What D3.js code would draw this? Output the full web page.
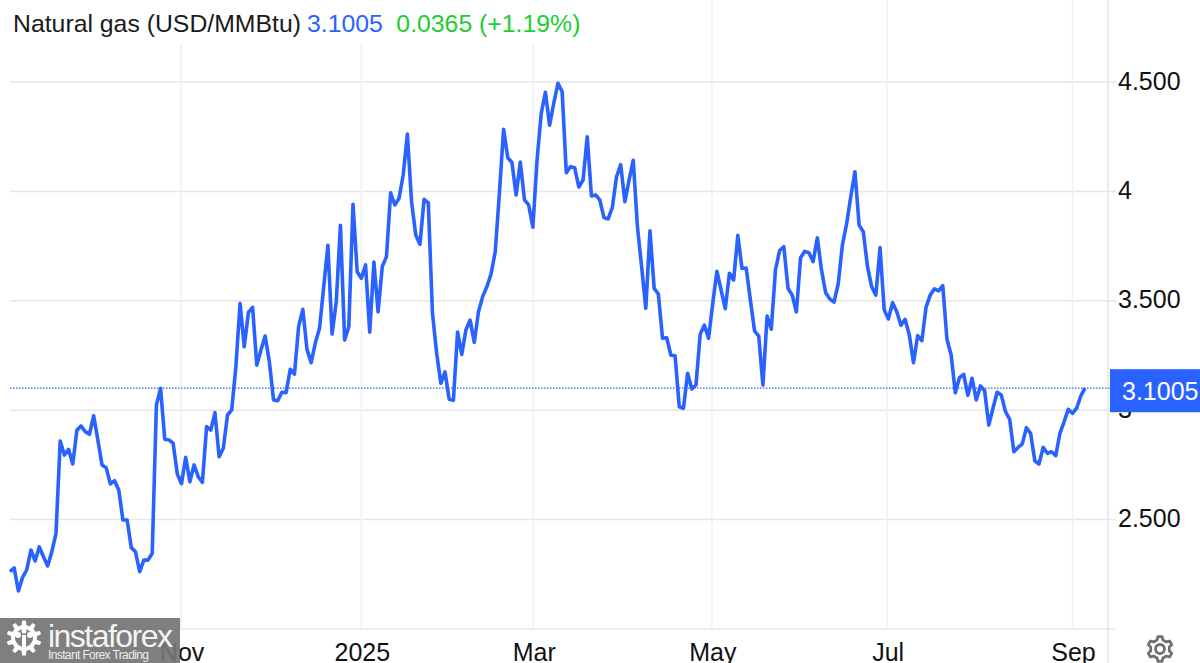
<!DOCTYPE html>
<html>
<head>
<meta charset="utf-8">
<script src="https://cdn.jsdelivr.net/npm/d3@7"></script>
<style>
    html, body { margin: 0; padding: 0; background: #fff; }
    svg { display: block; }
    text { font-family: "Liberation Sans", Arial, sans-serif; }
</style>
</head>
<body>
<svg id="chart" width="1200" height="663"></svg>
<script>
// Henry Hub prices, one value per trading day
const prices = [
    2.262, 2.279, 2.174, 2.236, 2.27, 2.361, 2.311, 2.376, 2.33, 2.288,
    2.353, 2.437, 2.859, 2.795, 2.821, 2.754, 2.909, 2.928, 2.902, 2.89,
    2.975, 2.864, 2.75, 2.737, 2.663, 2.678, 2.635, 2.498, 2.498, 2.372,
    2.353, 2.262, 2.315, 2.315, 2.346, 3.024, 3.1, 2.867, 2.864, 2.849,
    2.708, 2.664, 2.785, 2.673, 2.75, 2.696, 2.67, 2.925, 2.909, 2.989,
    2.787, 2.826, 2.978, 3.001,
    3.199, 3.488, 3.29, 3.447, 3.47, 3.206, 3.275, 3.339, 3.222, 3.047,
    3.043, 3.082, 3.08, 3.187, 3.165, 3.382, 3.461, 3.278, 3.217, 3.308,
    3.374, 3.564, 3.754, 3.348, 3.496, 3.845, 3.321, 3.382, 3.941, 3.633,
    3.603, 3.664, 3.357, 3.677, 3.45, 3.656, 3.702, 3.994, 3.938, 3.968,
    4.075, 4.262, 3.953, 3.801, 3.758, 3.964, 3.948, 3.443, 3.26, 3.123,
    3.175, 3.05, 3.045, 3.357, 3.255, 3.367, 3.412, 3.31, 3.45, 3.519,
    3.564, 3.622, 3.724, 3.991, 4.284, 4.154, 4.132, 3.984, 4.134, 3.961,
    3.938, 3.836, 4.143, 4.357, 4.453, 4.303, 4.403, 4.494, 4.456, 4.085,
    4.113, 4.108, 4.02, 4.052, 4.25, 3.979, 3.984, 3.961, 3.88, 3.874,
    3.927, 4.067, 4.122, 3.953, 4.052, 4.142, 3.839, 3.656, 3.466, 3.82,
    3.557, 3.531, 3.329, 3.331, 3.251, 3.249, 3.016, 3.009, 3.169, 3.097,
    3.115, 3.347, 3.389, 3.329, 3.488, 3.635, 3.549, 3.464, 3.626, 3.595,
    3.799, 3.648, 3.65, 3.504, 3.363, 3.339, 3.115, 3.43, 3.37, 3.641,
    3.73, 3.747, 3.557, 3.526, 3.449, 3.697, 3.726, 3.72, 3.679, 3.788,
    3.641, 3.537, 3.508, 3.494, 3.577, 3.755, 3.851, 3.976, 4.09, 3.846,
    3.816, 3.656, 3.564, 3.526, 3.743, 3.458, 3.417, 3.491, 3.45, 3.388,
    3.415, 3.344, 3.217, 3.341, 3.318, 3.47, 3.526, 3.555, 3.545, 3.569,
    3.324, 3.252, 3.08, 3.149, 3.164, 3.068, 3.146, 3.047, 3.111, 3.089,
    2.932, 3.009, 3.082, 3.069, 2.993, 2.958, 2.81, 2.83, 2.846, 2.92,
    2.894, 2.769, 2.754, 2.83, 2.803, 2.81, 2.792, 2.894, 2.947, 3.004,
    2.986, 3.009, 3.065, 3.1005
];
const lastPrice = prices[prices.length - 1];

const yTicks = [2.5, 3, 3.5, 4, 4.5];
const yTickLabels = ["2.500", "3", "3.500", "4", "4.500"];

// position of the month labels as a trading day number
const monthLabels = ["Nov", "2025", "Mar", "May", "Jul", "Sep"];
const monthIndex = [40.9, 84, 125.1, 167.8, 209.7, 254];

const BLUE = "#2962ff";
const GREEN = "#22cc33";
const GRID = "#e6e6e6";
const MONTH_GRID = "#edf2f6";
const FONT_SIZE = 25;

const svg = d3.select("#chart");

const x = d3.scaleLinear().domain([0, prices.length - 1]).range([10, 1085]);
const y = d3.scaleLinear().domain([2, 4.5]).range([629, 82]);

// horizontal grid
const gridValues = [2].concat(yTicks);
svg.append("g").selectAll("line")
    .data(gridValues)
    .join("line")
    .attr("x1", 10)
    .attr("x2", 1116)
    .attr("y1", d => y(d))
    .attr("y2", d => y(d))
    .attr("stroke", GRID)
    .attr("stroke-width", 1.5);

// vertical month grid
svg.append("g").selectAll("line")
    .data(monthIndex)
    .join("line")
    .attr("x1", d => x(d))
    .attr("x2", d => x(d))
    .attr("y1", 0)
    .attr("y2", 629)
    .attr("stroke", MONTH_GRID)
    .attr("stroke-width", 1.6);

// right axis border
svg.append("line")
    .attr("x1", 1108).attr("x2", 1108)
    .attr("y1", 0).attr("y2", 663)
    .attr("stroke", GRID)
    .attr("stroke-width", 1.6);

// y axis labels
svg.append("g").selectAll("text")
    .data(yTicks)
    .join("text")
    .attr("x", 1118)
    .attr("y", d => y(d) + 7.5)
    .attr("font-size", FONT_SIZE)
    .attr("fill", "#111")
    .text((d, i) => yTickLabels[i]);

// x axis labels
svg.append("g").selectAll("text")
    .data(monthIndex)
    .join("text")
    .attr("x", d => x(d) + 1)
    .attr("y", 661)
    .attr("text-anchor", "middle")
    .attr("font-size", FONT_SIZE)
    .attr("fill", "#111")
    .text((d, i) => monthLabels[i]);

// last price dotted line
svg.append("line")
    .attr("x1", 10).attr("x2", 1110)
    .attr("y1", y(lastPrice)).attr("y2", y(lastPrice))
    .attr("stroke", BLUE)
    .attr("stroke-width", 1.3)
    .attr("stroke-dasharray", "1.5 1.5");

// price line
const line = d3.line()
    .x((d, i) => x(i))
    .y(d => y(d));

svg.append("path")
    .datum(prices)
    .attr("d", line)
    .attr("fill", "none")
    .attr("stroke", BLUE)
    .attr("stroke-width", 3.6)
    .attr("stroke-linejoin", "round");

// price tag
svg.append("rect")
    .attr("x", 1110)
    .attr("y", y(lastPrice) - 19)
    .attr("width", 90)
    .attr("height", 43)
    .attr("fill", BLUE);

svg.append("text")
    .attr("x", 1122)
    .attr("y", y(lastPrice) + 12)
    .attr("font-size", FONT_SIZE)
    .attr("fill", "#fff")
    .text(lastPrice.toFixed(4));

// header sits on its own white box, the month lines stop under it
svg.append("rect")
    .attr("width", 592)
    .attr("height", 44)
    .attr("fill", "#fff");

const header = svg.append("text")
    .attr("x", 13)
    .attr("y", 32)
    .attr("font-size", 24.8);
header.append("tspan").attr("fill", "#1a1a1a").text("Natural gas (USD/MMBtu)");
header.append("tspan").attr("dx", 6).attr("fill", BLUE).text(lastPrice.toFixed(4));
header.append("tspan").attr("dx", 13.5).attr("fill", GREEN).text("0.0365 (+1.19%)");

// gear shape used by the settings button and the logo
function gearPath(outer, inner, teeth) {
    const pts = [];
    const step = Math.PI * 2 / teeth;
    for (let i = 0; i < teeth; i++) {
        const a = i * step;
        pts.push([a - step * 0.3, inner]);
        pts.push([a - step * 0.16, outer]);
        pts.push([a + step * 0.16, outer]);
        pts.push([a + step * 0.3, inner]);
    }
    return d3.lineRadial().angle(d => d[0]).radius(d => d[1]).curve(d3.curveLinearClosed)(pts);
}

const settings = svg.append("g").attr("transform", "translate(1160,649)");
settings.append("path")
    .attr("d", gearPath(12.5, 9.5, 6))
    .attr("fill", "none")
    .attr("stroke", "#707070")
    .attr("stroke-width", 2.8)
    .attr("stroke-linejoin", "round");
settings.append("circle")
    .attr("r", 4.5)
    .attr("fill", "none")
    .attr("stroke", "#707070")
    .attr("stroke-width", 2.8);

// instaforex watermark
const wm = svg.append("g");
wm.append("rect")
    .attr("x", 0)
    .attr("y", 618)
    .attr("width", 180)
    .attr("height", 45)
    .attr("fill", "#747474")
    .attr("fill-opacity", 0.92);

const logo = wm.append("g").attr("transform", "translate(24,638)");
logo.append("path")
    .attr("d", gearPath(17.5, 13, 10))
    .attr("fill", "#fff");
logo.append("circle").attr("r", 9).attr("fill", "#808080");
logo.append("circle").attr("cx", -6).attr("cy", -3).attr("r", 3).attr("fill", "#fff");
logo.append("circle").attr("cx", 6).attr("cy", -3).attr("r", 3).attr("fill", "#fff");
logo.append("circle").attr("cx", 0).attr("cy", -7).attr("r", 2.5).attr("fill", "#fff");
logo.append("rect").attr("x", -2).attr("y", -3).attr("width", 4).attr("height", 17).attr("fill", "#fff");

wm.append("text")
    .attr("x", 48)
    .attr("y", 647)
    .attr("font-family", "Lato")
    .attr("font-weight", 300)
    .attr("font-size", 32)
    .attr("fill", "#f4f4f4")
    .attr("textLength", 125)
    .attr("lengthAdjust", "spacing")
    .text("instaforex");

wm.append("text")
    .attr("x", 48)
    .attr("y", 659)
    .attr("font-size", 12)
    .attr("fill", "#ececec")
    .attr("textLength", 101)
    .text("Instant Forex Trading");
</script>
</body>
</html>
